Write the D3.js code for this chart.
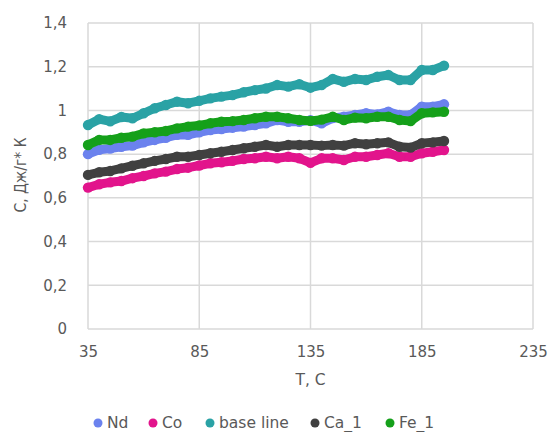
<!DOCTYPE html>
<html>
<head>
<meta charset="utf-8">
<script src="https://cdn.jsdelivr.net/npm/d3@7"></script>
<style>
  html, body { margin: 0; padding: 0; background: #fff; }
  svg { display: block; }
  text { font-family: "DejaVu Sans", sans-serif; fill: #595959; }
</style>
</head>
<body>
<svg id="chart" width="549" height="432"></svg>
<script>
// Temperature, °C (every 5 degrees)
const temps = [35,40,45,50,55,60,65,70,75,80,85,90,95,100,105,110,115,120,125,130,135,140,145,150,155,160,165,170,175,180,185,190,195];

// Specific heat capacity, J/(g·K)
const nd = [0.800,0.820,0.826,0.834,0.839,0.854,0.865,0.875,0.888,0.888,0.900,0.910,0.915,0.921,0.926,0.933,0.941,0.956,0.948,0.948,0.955,0.941,0.965,0.971,0.979,0.987,0.982,0.994,0.979,0.979,1.017,1.017,1.028];
const co = [0.647,0.662,0.671,0.677,0.690,0.700,0.712,0.720,0.732,0.738,0.748,0.758,0.763,0.769,0.778,0.781,0.788,0.781,0.788,0.781,0.760,0.781,0.781,0.773,0.788,0.788,0.796,0.804,0.788,0.788,0.804,0.811,0.819];
const baseLine = [0.933,0.960,0.950,0.970,0.964,0.987,1.010,1.025,1.040,1.033,1.044,1.055,1.063,1.070,1.083,1.093,1.100,1.116,1.109,1.120,1.104,1.116,1.144,1.131,1.144,1.139,1.154,1.162,1.139,1.139,1.185,1.185,1.205];
const ca1 = [0.705,0.717,0.723,0.735,0.747,0.758,0.769,0.778,0.788,0.788,0.796,0.804,0.811,0.819,0.827,0.834,0.842,0.834,0.842,0.842,0.842,0.839,0.842,0.839,0.850,0.845,0.850,0.854,0.834,0.830,0.850,0.854,0.860];
const fe1 = [0.842,0.865,0.865,0.875,0.880,0.895,0.900,0.906,0.918,0.926,0.931,0.941,0.948,0.951,0.956,0.964,0.971,0.971,0.964,0.956,0.952,0.958,0.971,0.956,0.967,0.964,0.971,0.971,0.956,0.951,0.987,0.991,0.994];

const seriesNames = ["Nd", "Co", "base line", "Ca_1", "Fe_1"];
const seriesValues = [nd, co, baseLine, ca1, fe1];
const seriesColors = ["#6b82ee", "#e2148c", "#2aa2a5", "#404040", "#15a01a"];

const xTicks = [35, 85, 135, 185, 235];
const yTicks = [0, 0.2, 0.4, 0.6, 0.8, 1, 1.2, 1.4];

const xTitle = "T, C";
const yTitle = "C, Дж/г* К";

const svg = d3.select("#chart");
const plot = { left: 88, right: 533, top: 23, bottom: 329 };

const x = d3.scaleLinear().domain([35, 235]).range([plot.left, plot.right]);
const y = d3.scaleLinear().domain([0, 1.4]).range([plot.bottom, plot.top]);

const fmt = v => String(+v.toFixed(1)).replace(".", ",");

// gridlines (horizontal and vertical)
const grid = svg.append("g");
grid.selectAll(".hg").data(yTicks).join("line")
  .attr("x1", plot.left).attr("x2", plot.right)
  .attr("y1", d => y(d)).attr("y2", d => y(d))
  .attr("stroke", "#d9d9d9").attr("stroke-width", 1.5);
grid.selectAll(".vg").data(xTicks).join("line")
  .attr("y1", plot.top).attr("y2", plot.bottom)
  .attr("x1", d => x(d)).attr("x2", d => x(d))
  .attr("stroke", "#d9d9d9").attr("stroke-width", 1.5);

// axes (tick labels only)
const yAxis = d3.axisLeft(y).tickValues(yTicks).tickSize(0).tickPadding(21).tickFormat(fmt);
svg.append("g").attr("transform", `translate(${plot.left},0)`).call(yAxis)
  .call(g => g.select(".domain").remove())
  .call(g => g.selectAll("text").attr("font-size", 15).attr("font-family", "DejaVu Sans, sans-serif").attr("fill", "#595959"));

const xAxis = d3.axisBottom(x).tickValues(xTicks).tickSize(0).tickPadding(17).tickFormat(d3.format("d"));
svg.append("g").attr("transform", `translate(0,${plot.bottom})`).call(xAxis)
  .call(g => g.select(".domain").remove())
  .call(g => g.selectAll("text").attr("font-size", 15).attr("font-family", "DejaVu Sans, sans-serif").attr("fill", "#595959"));

// axis titles
svg.append("text").attr("x", (plot.left + plot.right) / 2).attr("y", 384.5)
  .attr("text-anchor", "middle").attr("font-size", 15.5).text(xTitle);
svg.append("text").attr("transform", `translate(26,175) rotate(-90)`)
  .attr("text-anchor", "middle").attr("font-size", 15.5)
  .attr("font-family", "Liberation Sans, Arial, sans-serif")
  .attr("textLength", 75).attr("lengthAdjust", "spacingAndGlyphs")
  .text(yTitle);

// series: thick marker trails
const line = d3.line().x((d, i) => x(temps[i])).y(d => y(d)).curve(d3.curveLinear);
seriesValues.forEach((vals, si) => {
  const g = svg.append("g");
  g.append("path").datum(vals).attr("d", line)
    .attr("fill", "none").attr("stroke", seriesColors[si])
    .attr("stroke-width", 9).attr("stroke-linejoin", "round").attr("stroke-linecap", "round");
  g.selectAll("circle").data(vals).join("circle")
    .attr("cx", (d, i) => x(temps[i])).attr("cy", d => y(d))
    .attr("r", 5.2).attr("fill", seriesColors[si]);
});

// legend
const legendX = [98, 153, 210, 315, 390];
const legend = svg.append("g");
seriesNames.forEach((name, i) => {
  legend.append("circle").attr("cx", legendX[i]).attr("cy", 423).attr("r", 4.5).attr("fill", seriesColors[i]);
  legend.append("text").attr("x", legendX[i] + 9).attr("y", 427.5).attr("font-size", 15.5).text(name);
});
</script>
</body>
</html>
